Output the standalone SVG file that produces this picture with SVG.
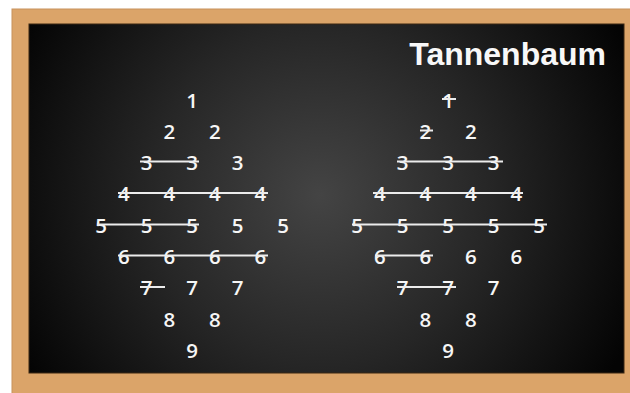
<svg xmlns="http://www.w3.org/2000/svg" width="630" height="393" viewBox="0 0 630 393">
<defs>
<radialGradient id="board" cx="320" cy="195" r="340" gradientUnits="userSpaceOnUse">
<stop offset="0" stop-color="#444444"/>
<stop offset="0.5" stop-color="#262626"/>
<stop offset="1" stop-color="#040404"/>
</radialGradient>
</defs>
<style>
.d{font-family:"Open Sans","DejaVu Sans",sans-serif;font-size:20.5px;font-weight:600;fill:#f6f6f6;text-anchor:middle}
.s{stroke:#ececec;stroke-width:2;fill:none}
.title{font-family:"Liberation Sans",Arial,sans-serif;font-size:32px;font-weight:bold;fill:#f8f8f8;text-anchor:end}
</style>
<rect width="630" height="393" fill="#ffffff"/>
<g id="frame">
<rect x="12" y="9" width="625" height="390" fill="#dba469" stroke="#c8915c" stroke-width="1"/>
<rect x="29" y="24" width="595" height="349" fill="url(#board)" stroke="#3a2612" stroke-width="1"/>
</g>
<g id="title"><text class="title" x="606" y="65">Tannenbaum</text></g>
<g id="left-tree">
<text class="d" x="192" y="107.5">1</text>
<text class="d" x="169.25" y="138.8">2</text><text class="d" x="214.75" y="138.8">2</text>
<text class="d" x="146.5" y="170.1">3</text><text class="d" x="192" y="170.1">3</text><text class="d" x="237.5" y="170.1">3</text>
<text class="d" x="123.75" y="201.4">4</text><text class="d" x="169.25" y="201.4">4</text><text class="d" x="214.75" y="201.4">4</text><text class="d" x="260.25" y="201.4">4</text>
<text class="d" x="101" y="232.7">5</text><text class="d" x="146.5" y="232.7">5</text><text class="d" x="192" y="232.7">5</text><text class="d" x="237.5" y="232.7">5</text><text class="d" x="283" y="232.7">5</text>
<text class="d" x="123.75" y="264">6</text><text class="d" x="169.25" y="264">6</text><text class="d" x="214.75" y="264">6</text><text class="d" x="260.25" y="264">6</text>
<text class="d" x="146.5" y="295.3">7</text><text class="d" x="192" y="295.3">7</text><text class="d" x="237.5" y="295.3">7</text>
<text class="d" x="169.25" y="326.6">8</text><text class="d" x="214.75" y="326.6">8</text>
<text class="d" x="192" y="357.9">9</text>
</g>
<g id="right-tree">
<text class="d" x="448" y="107.5">1</text>
<text class="d" x="425.25" y="138.8">2</text><text class="d" x="470.75" y="138.8">2</text>
<text class="d" x="402.5" y="170.1">3</text><text class="d" x="448" y="170.1">3</text><text class="d" x="493.5" y="170.1">3</text>
<text class="d" x="379.75" y="201.4">4</text><text class="d" x="425.25" y="201.4">4</text><text class="d" x="470.75" y="201.4">4</text><text class="d" x="516.25" y="201.4">4</text>
<text class="d" x="357" y="232.7">5</text><text class="d" x="402.5" y="232.7">5</text><text class="d" x="448" y="232.7">5</text><text class="d" x="493.5" y="232.7">5</text><text class="d" x="539" y="232.7">5</text>
<text class="d" x="379.75" y="264">6</text><text class="d" x="425.25" y="264">6</text><text class="d" x="470.75" y="264">6</text><text class="d" x="516.25" y="264">6</text>
<text class="d" x="402.5" y="295.3">7</text><text class="d" x="448" y="295.3">7</text><text class="d" x="493.5" y="295.3">7</text>
<text class="d" x="425.25" y="326.6">8</text><text class="d" x="470.75" y="326.6">8</text>
<text class="d" x="448" y="357.9">9</text>
</g>
<g id="connectors">
<line class="s" x1="140" y1="161.5" x2="199" y2="161.5"/>
<line class="s" x1="118" y1="193" x2="268" y2="193"/>
<line class="s" x1="97" y1="224.5" x2="199" y2="224.5"/>
<line class="s" x1="118" y1="255.5" x2="268" y2="255.5"/>
<line class="s" x1="140" y1="287" x2="165" y2="287"/>
<line class="s" x1="442" y1="99" x2="456" y2="99"/>
<line class="s" x1="420" y1="130.5" x2="433" y2="130.5"/>
<line class="s" x1="397" y1="161.5" x2="503" y2="161.5"/>
<line class="s" x1="373" y1="193" x2="523" y2="193"/>
<line class="s" x1="352" y1="224.5" x2="547" y2="224.5"/>
<line class="s" x1="375" y1="255.5" x2="433" y2="255.5"/>
<line class="s" x1="397" y1="287" x2="456" y2="287"/>
</g>
</svg>
